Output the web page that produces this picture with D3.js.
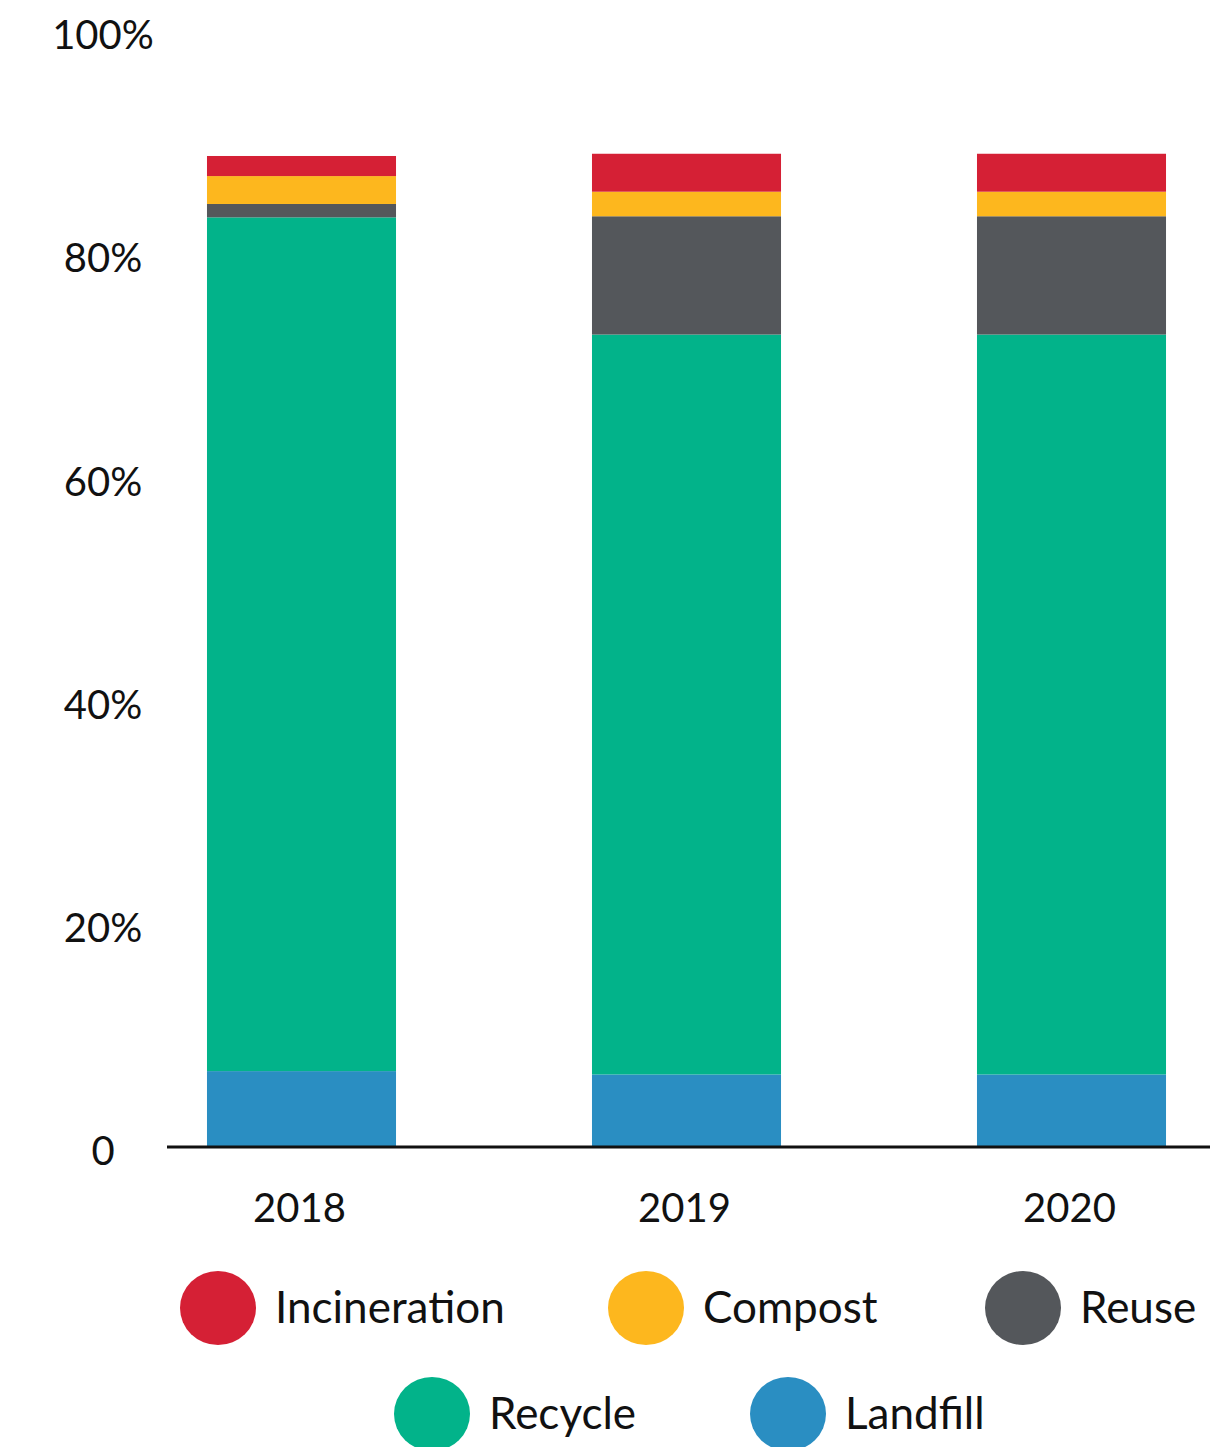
<!DOCTYPE html>
<html>
<head>
<meta charset="utf-8">
<script src="https://cdn.jsdelivr.net/npm/d3@7"></script>
<style>
  html, body { margin: 0; padding: 0; background: #fff; }
  svg { display: block; }
  text { font-family: "Lato", "Open Sans", sans-serif; fill: #111; }
</style>
</head>
<body>
<svg id="chart" width="1229" height="1447"></svg>
<script>
const years = ["2018", "2019", "2020"];
const seriesNames = ["Landfill", "Recycle", "Reuse", "Compost", "Incineration"];
const landfill     = [6.8, 6.5, 6.5];
const recycle      = [76.5, 66.3, 66.3];
const reuse        = [1.2, 10.6, 10.6];
const compost      = [2.5, 2.2, 2.2];
const incineration = [1.8, 3.4, 3.4];
const yTicks = [0, 20, 40, 60, 80, 100];
const yTickLabels = ["0", "20%", "40%", "60%", "80%", "100%"];
const legendOrder = ["Incineration", "Compost", "Reuse", "Recycle", "Landfill"];
const colors = {
  Landfill: "#2a8ec2",
  Recycle: "#02b38a",
  Reuse: "#54575b",
  Compost: "#fdb71e",
  Incineration: "#d52035"
};

const valuesBySeries = { Landfill: landfill, Recycle: recycle, Reuse: reuse, Compost: compost, Incineration: incineration };
const table = years.map((y, i) => {
  const row = { year: y };
  seriesNames.forEach(s => row[s] = valuesBySeries[s][i]);
  return row;
});

const svg = d3.select("#chart");

const x = d3.scaleBand().domain(years).range([109, 1264]).paddingInner(0.509).paddingOuter(0.2545);
const y = d3.scaleLinear().domain([0, 100]).range([1147, 31]);

const stack = d3.stack().keys(seriesNames)(table);

svg.append("g").selectAll("g").data(stack).join("g")
  .attr("fill", d => colors[d.key])
  .selectAll("rect").data(d => d).join("rect")
  .attr("x", d => x(d.data.year))
  .attr("width", x.bandwidth())
  .attr("y", d => y(d[1]))
  .attr("height", d => y(d[0]) - y(d[1]));

// y tick labels
svg.append("g").selectAll("text").data(yTicks).join("text")
  .attr("x", 103)
  .attr("y", d => y(d) + 8)
  .attr("text-anchor", "middle")
  .attr("dominant-baseline", "middle")
  .attr("font-size", 40)
  .text((d, i) => yTickLabels[i]);

// baseline
svg.append("line")
  .attr("x1", 167).attr("x2", 1210)
  .attr("y1", y(0)).attr("y2", y(0))
  .attr("stroke", "#111").attr("stroke-width", 3);

// x labels
svg.append("g").selectAll("text").data(years).join("text")
  .attr("x", d => x(d) + x.bandwidth() / 2 - 2)
  .attr("y", 1222)
  .attr("text-anchor", "middle")
  .attr("font-size", 40)
  .text(d => d);

// legend
const legendPos = [
  { cx: 218, cy: 1308 }, { cx: 646, cy: 1308 }, { cx: 1023, cy: 1308 },
  { cx: 432, cy: 1414 }, { cx: 788, cy: 1414 }
];
const lg = svg.append("g").selectAll("g").data(legendOrder).join("g")
  .attr("transform", (d, i) => `translate(${legendPos[i].cx},${legendPos[i].cy})`);
lg.append("ellipse").attr("rx", 38).attr("ry", 37).attr("fill", d => colors[d]);
lg.append("text")
  .attr("x", 57).attr("y", 15)
  .attr("font-size", 44)
  .text(d => d);
</script>
</body>
</html>
